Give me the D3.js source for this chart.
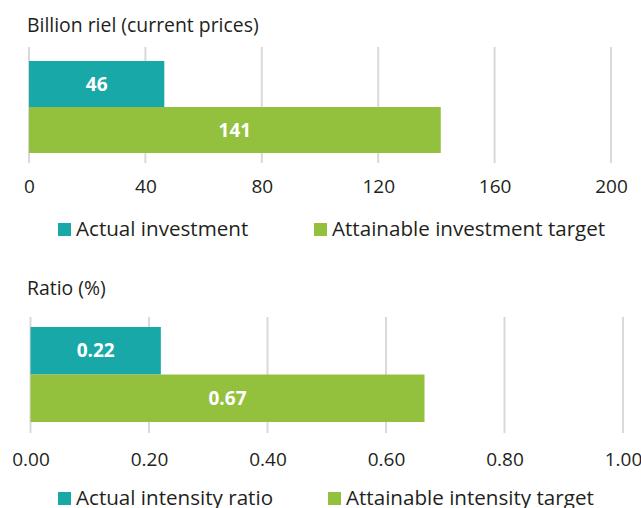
<!DOCTYPE html>
<html><head><meta charset="utf-8">
<script src="https://cdn.jsdelivr.net/npm/d3@7"></script>
<style>body{margin:0;background:#fff}svg{display:block}text{font-family:"Open Sans",sans-serif;fill:#231f20}</style>
</head><body><svg id="c" width="641" height="508"></svg>
<script>
const topTitle = "Billion riel (current prices)";
const topSeries = ["Actual investment", "Attainable investment target"];
const topValues = [46.5, 141.5];
const topLabels = ["46", "141"];
const topTicks = [0, 40, 80, 120, 160, 200];

const botTitle = "Ratio (%)";
const botSeries = ["Actual intensity ratio", "Attainable intensity target"];
const botValues = [0.22, 0.665];
const botLabels = ["0.22", "0.67"];
const botTicks = [0, 0.2, 0.4, 0.6, 0.8, 1.0];

const colors = ["#19a8a8", "#93c13e"];
const svg = d3.select("#c");

function panel(o) {
  const g = svg.append("g");
  const x = d3.scaleLinear().domain([o.ticks[0], o.ticks[o.ticks.length-1]]).range([o.x0, o.x1]);
  const y = d3.scaleBand().domain(o.series).range([o.barTop, o.barBot]).padding(0);
  g.append("text").attr("x", o.titleX).attr("y", o.titleY).attr("font-size", 19.4).text(o.title);
  g.selectAll(".grid").data(o.ticks).join("line")
    .attr("x1", d => x(d)).attr("x2", d => x(d))
    .attr("y1", o.gridTop).attr("y2", o.gridBot)
    .attr("stroke", "#d9d9d9").attr("stroke-width", 2);
  g.selectAll(".bar").data(o.values).join("rect")
    .attr("x", x(0)).attr("y", (d, i) => y(o.series[i]))
    .attr("width", d => x(d) - x(0)).attr("height", y.bandwidth())
    .attr("fill", (d, i) => colors[i]);
  g.selectAll(".lab").data(o.values).join("text")
    .attr("x", d => (x(0) + x(d)) / 2).attr("y", (d, i) => y(o.series[i]) + y.bandwidth()/2)
    .attr("dy", "0.35em").attr("text-anchor", "middle").attr("font-size", 19).attr("font-weight", "bold")
    .style("fill", "#fff").text((d, i) => o.labels[i]);
  const ax = d3.axisBottom(x).tickValues(o.ticks).tickSize(0).tickFormat(o.fmt);
  const axg = g.append("g").attr("transform", `translate(0,${o.axisY})`).call(ax);
  axg.select(".domain").remove();
  axg.selectAll("text").attr("font-size", 19).attr("font-family", '"Open Sans",sans-serif').style("fill", "#231f20").attr("dy", "0.35em").attr("y", 0);
  o.series.forEach((s, i) => {
    g.append("rect").attr("x", o.legX[i]).attr("y", o.legY - 13).attr("width", 13).attr("height", 13).attr("fill", colors[i]);
    g.append("text").attr("x", o.legX[i] + 18).attr("y", o.legY).attr("font-size", 20.6).text(s);
  });
}

panel({title: topTitle, titleX: 27, titleY: 32, series: topSeries, values: topValues, labels: topLabels,
  ticks: topTicks, x0: 29, x1: 611, barTop: 61, barBot: 153, gridTop: 47, gridBot: 163, axisY: 186,
  fmt: d3.format("d"), legX: [58, 314], legY: 236});
panel({title: botTitle, titleX: 27, titleY: 295, series: botSeries, values: botValues, labels: botLabels,
  ticks: botTicks, x0: 30.5, x1: 623, barTop: 327, barBot: 422, gridTop: 317, gridBot: 433, axisY: 459,
  fmt: d3.format(".2f"), legX: [58, 328], legY: 505});
</script></body></html>
